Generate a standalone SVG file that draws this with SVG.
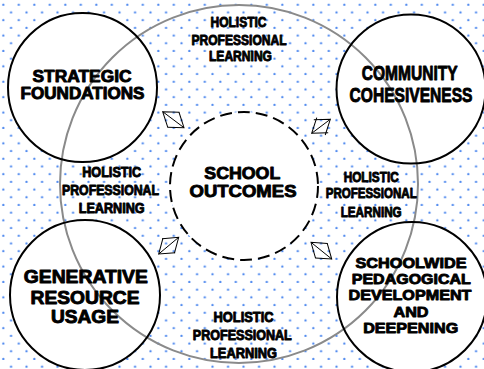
<svg xmlns="http://www.w3.org/2000/svg" width="484" height="369" viewBox="0 0 484 369">
<defs>
<pattern id="dots" patternUnits="userSpaceOnUse" width="15.5" height="15.4">
<circle cx="3.3" cy="4.7" r="1.15" fill="#4a86ee"/>
<circle cx="11.05" cy="12.4" r="1.15" fill="#4a86ee"/>
</pattern>
<marker id="ah" markerUnits="userSpaceOnUse" markerWidth="30" markerHeight="30" viewBox="-20 -15 30 30" refX="0" refY="0" orient="auto-start-reverse">
<path d="M-13.5,-9.5 L0,0 L-13.5,9.5" fill="none" stroke="#000" stroke-width="1"/>
</marker>
<style>
.node{fill:none;stroke:#000;stroke-width:2}
.bg{fill:#fff;stroke:none}
.lbl{font-family:"Liberation Sans",Arial,sans-serif;font-weight:700;fill:#000;stroke:#000;stroke-width:0.9;stroke-linejoin:round;text-anchor:middle}
.s14{font-size:14px}
.s15{font-size:15px}
.s16{font-size:16px}
.s17{font-size:17px}
.s18{font-size:18px}
.s20{font-size:20px}
.conn{stroke:#000;stroke-width:1;fill:none;marker-start:url(#ah);marker-end:url(#ah)}
</style>
</defs>
<rect x="0" y="0" width="484" height="369" fill="#fff"/>
<rect x="0" y="0" width="484" height="369" fill="url(#dots)"/>
<g id="node-fills">
<circle class="bg" cx="82.5" cy="87.5" r="74.5"/>
<circle class="bg" cx="411" cy="89" r="74.5"/>
<circle class="bg" cx="85" cy="295" r="75"/>
<circle class="bg" cx="412" cy="297" r="75"/>
<circle class="bg" cx="244" cy="186" r="74"/>
</g>
<g id="holistic-ring">
<circle cx="239" cy="184" r="179" fill="none" stroke="#8a8a8a" stroke-width="2"/>
<text class="lbl s14" x="238.5" y="27" textLength="56" lengthAdjust="spacingAndGlyphs">HOLISTIC</text>
<text class="lbl s14" x="239" y="44.5" textLength="95" lengthAdjust="spacingAndGlyphs">PROFESSIONAL</text>
<text class="lbl s14" x="240.5" y="61" textLength="63" lengthAdjust="spacingAndGlyphs">LEARNING</text>
<text class="lbl s14" x="111.7" y="177" textLength="59" lengthAdjust="spacingAndGlyphs">HOLISTIC</text>
<text class="lbl s14" x="110.5" y="194.5" textLength="97" lengthAdjust="spacingAndGlyphs">PROFESSIONAL</text>
<text class="lbl s14" x="111.7" y="213" textLength="66" lengthAdjust="spacingAndGlyphs">LEARNING</text>
<text class="lbl s14" x="371.2" y="181.5" textLength="55" lengthAdjust="spacingAndGlyphs">HOLISTIC</text>
<text class="lbl s14" x="371.2" y="198" textLength="91" lengthAdjust="spacingAndGlyphs">PROFESSIONAL</text>
<text class="lbl s14" x="371.2" y="216.5" textLength="61" lengthAdjust="spacingAndGlyphs">LEARNING</text>
<text class="lbl s14" x="243.5" y="321.5" textLength="60" lengthAdjust="spacingAndGlyphs">HOLISTIC</text>
<text class="lbl s14" x="242.3" y="340" textLength="99" lengthAdjust="spacingAndGlyphs">PROFESSIONAL</text>
<text class="lbl s14" x="243.5" y="358" textLength="67" lengthAdjust="spacingAndGlyphs">LEARNING</text>
</g>
<g id="connectors">
<line class="conn" x1="162.7" y1="111.7" x2="184" y2="127.7"/>
<line class="conn" x1="330.3" y1="119.3" x2="311.7" y2="133.3"/>
<line class="conn" x1="178.7" y1="237.3" x2="158.7" y2="254"/>
<line class="conn" x1="311" y1="242.3" x2="331.7" y2="259"/>
</g>
<g id="strategic-foundations">
<circle class="node" cx="82.5" cy="87.5" r="74.5"/>
<text class="lbl s16" x="82" y="82" textLength="99" lengthAdjust="spacingAndGlyphs">STRATEGIC</text>
<text class="lbl s16" x="82.5" y="99" textLength="124" lengthAdjust="spacingAndGlyphs">FOUNDATIONS</text>
</g>
<g id="community-cohesiveness">
<circle class="node" cx="411" cy="89" r="74.5"/>
<text class="lbl s20" x="409.7" y="80" textLength="96" lengthAdjust="spacingAndGlyphs">COMMUNITY</text>
<text class="lbl s20" x="411" y="101.5" textLength="123" lengthAdjust="spacingAndGlyphs">COHESIVENESS</text>
</g>
<g id="generative-resource-usage">
<circle class="node" cx="85" cy="295" r="75"/>
<text class="lbl s18" x="85.8" y="283" textLength="124" lengthAdjust="spacingAndGlyphs">GENERATIVE</text>
<text class="lbl s18" x="85" y="304" textLength="109" lengthAdjust="spacingAndGlyphs">RESOURCE</text>
<text class="lbl s18" x="85" y="323" textLength="68" lengthAdjust="spacingAndGlyphs">USAGE</text>
</g>
<g id="schoolwide-pedagogical">
<circle class="node" cx="412" cy="297" r="75"/>
<text class="lbl s15" x="411" y="268" textLength="111" lengthAdjust="spacingAndGlyphs">SCHOOLWIDE</text>
<text class="lbl s15" x="411.3" y="284" textLength="119" lengthAdjust="spacingAndGlyphs">PEDAGOGICAL</text>
<text class="lbl s15" x="410" y="300" textLength="123" lengthAdjust="spacingAndGlyphs">DEVELOPMENT</text>
<text class="lbl s15" x="411" y="316.5" textLength="35" lengthAdjust="spacingAndGlyphs">AND</text>
<text class="lbl s15" x="410.7" y="332.5" textLength="95" lengthAdjust="spacingAndGlyphs">DEEPENING</text>
</g>
<g id="school-outcomes">
<circle class="node" cx="244" cy="186" r="74" stroke-dasharray="12 6"/>
<text class="lbl s17" x="242.3" y="179" textLength="76" lengthAdjust="spacingAndGlyphs">SCHOOL</text>
<text class="lbl s17" x="243" y="197" textLength="107" lengthAdjust="spacingAndGlyphs">OUTCOMES</text>
</g>
</svg>
